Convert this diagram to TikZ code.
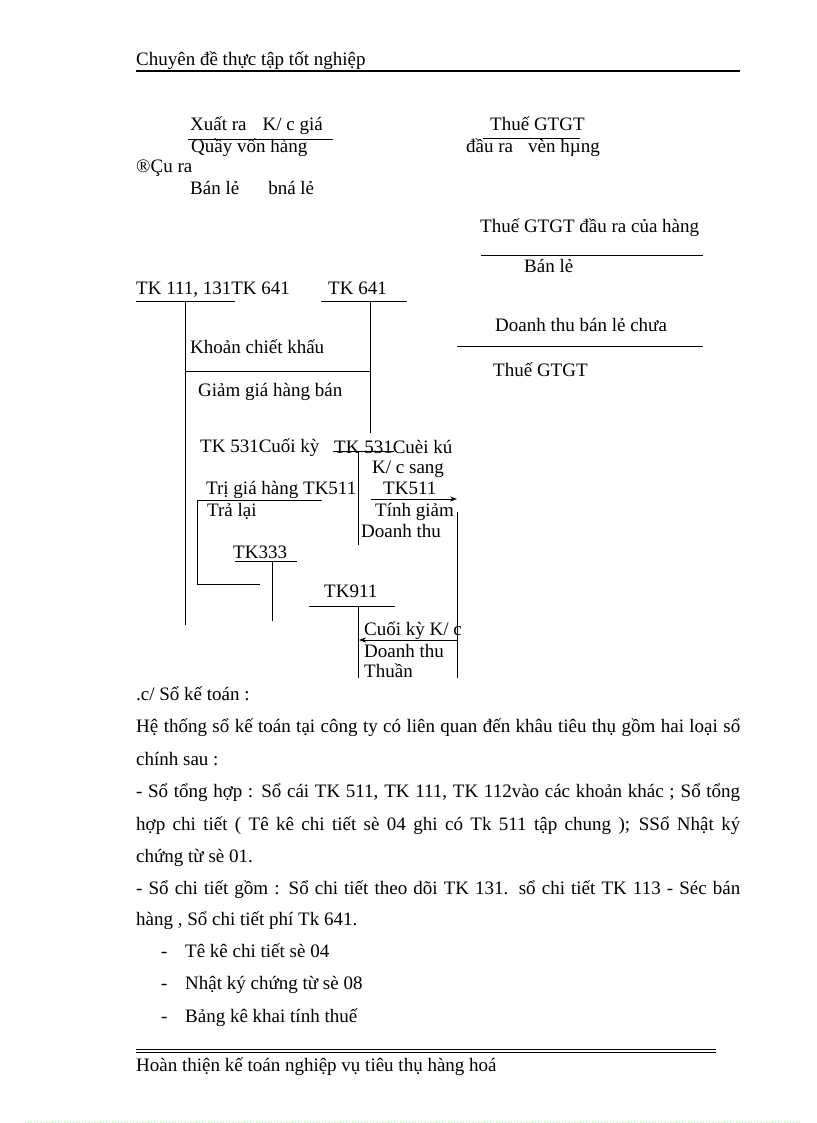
\documentclass[tikz,border=0pt]{standalone}
\usepackage{fontspec}
\setmainfont{Liberation Serif}
\usetikzlibrary{arrows.meta}

\begin{document}
\begin{tikzpicture}[x=1pt, y=-1pt,
                every node/.style={font=\fontsize{19}{23}\selectfont, inner sep=0pt, anchor=base west},
                rule/.style={line width=0.8pt},
                flow/.style={line width=0.8pt, -{Stealth[length=7pt, width=5pt]}}]
                \useasboundingbox[fill=white] (0,0) rectangle (816,1123);

                % Header
                \node (hdr) at (136,66) {Chuyên đề thực tập tốt nghiệp};
                \draw[line width=2pt] (136,71.5) -- (740,71.5);

                % Top notes
                \node (xuat) at (190,131) {Xuất ra\hspace{16pt}K/ c giá};
                \node (quay) at (191,153) {Quầy vốn hàng};
                \node (cura) at (136,173) {®Çu ra};
                \node (banle) at (190,195) {Bán lẻ\hspace{29pt}bná lẻ};
                \draw[rule] (188,139) -- (333,139);
                \node (thue1) at (490,131) {Thuế GTGT};
                \node (daura) at (466,153) {đầu ra\hspace{15pt}vèn hµng};
                \draw[rule] (483,138.5) -- (580,138.5);

                % Right notes
                \node (thue2) at (480,233) {Thuế GTGT đầu ra của hàng};
                \draw[rule] (481,255) -- (703,255);
                \node (banle2) at (524,272) {Bán lẻ};
                \node (dtbl) at (495,331) {Doanh thu bán lẻ chưa};
                \draw[rule] (457,346) -- (703,346);
                \node (thue3) at (493,376) {Thuế GTGT};

                % Accounts TK 111, TK 641
                \node (tk111) at (136,294) {TK 111, 131TK 641};
                \node (tk641) at (328,294) {TK 641};
                \draw[rule] (136,301) -- (235,301);
                \draw[rule] (321,301) -- (407,301);
                \draw[rule] (185,301) -- (185,625);
                \draw[rule] (370,301) -- (370,433);
                \node (khoan) at (190,353) {Khoản chiết khấu};
                \draw[rule] (185,371) -- (370,371);
                \node (giam) at (198,396) {Giảm giá hàng bán};

                % Accounts TK 531
                \node (tk531a) at (200,452) {TK 531Cuối kỳ};
                \node (tk531b) at (334,453) {TK 531Cuèi kú};
                \draw[rule] (333,451) -- (394,451);
                \draw[rule] (358,451) -- (358,545);
                \node (kcsang) at (372,473) {K/ c sang};
                \node (trigia) at (206,494) {Trị giá hàng TK511};
                \draw[rule] (197,500) -- (322,500);
                \draw[rule] (197,500) -- (197,584) -- (260,584);
                \node (tralai) at (207,516) {Trả lại};
                \node (tk511) at (383,494) {TK511};
                \coordinate (k1s) at (371,499);
                \coordinate (k1e) at (457,499);
                \draw[flow] (k1s) -- (k1e);
                \node (tinh) at (375,516) {Tính giảm};
                \node (dthu) at (361,537) {Doanh thu};
                \draw[rule] (457,512) -- (457,678);

                % Accounts TK333, TK911
                \node (tk333) at (233,558) {TK333};
                \draw[rule] (235,561) -- (297,561);
                \draw[rule] (272,561) -- (272,621);
                \node (tk911) at (324,597) {TK911};
                \draw[rule] (309,606) -- (395,606);
                \draw[rule] (358,606) -- (358,678);
                \coordinate (k2s) at (457,640);
                \coordinate (k2e) at (359,640);
                \draw[flow] (k2s) -- (k2e);
                \node (cuoiky) at (364,635) {Cuối kỳ K/ c};
                \node (dthu2) at (364,657) {Doanh thu};
                \node (thuan) at (364,677) {Thuần};

                % Body text
                \node (sokt) at (136,700) {.c/ Sổ kế toán :};
                \node (p1) at (136,732.5) {\makebox[604pt][s]{Hệ thống sổ kế toán tại  công ty có liên  quan đến khâu tiêu thụ gồm hai loại sổ}};
                \node (p2) at (136,765) {chính sau :};
                \node (p3) at (136,797.5) {\makebox[604pt][s]{- Sổ tổng hợp : Sổ cái TK 511, TK 111, TK 112vào  các khoản khác ; Sổ tổng}};
                \node (p4) at (136,830) {\makebox[604pt][s]{hợp chi tiết ( Tê kê chi tiết sè 04 ghi có Tk 511 tập chung ); SSổ Nhật ký}};
                \node (p5) at (136,862.5) {chứng từ sè 01.};
                \node (p6) at (136,894) {\makebox[604pt][s]{- Sổ chi tiết gồm : Sổ chi tiết theo dõi TK 131. sổ chi tiết TK 113 - Séc bán}};
                \node (p7) at (136,925.5) {hàng , Sổ chi tiết phí Tk 641.};
                \foreach \t [count=\i from 0] in {Tê kê chi tiết sè 04, Nhật ký chứng từ sè 08, Bảng kê khai tính thuế} {
                    \node (d\i) at (161,957.5+32.3*\i) {-};
                    \node (b\i) at (185,957.5+32.3*\i) {\t};
                }

                % Footer
                \draw[rule] (136,1049) -- (716,1049);
                \draw[rule] (136,1052.5) -- (716,1052.5);
                \node (ftr) at (136,1071) {Hoàn thiện kế toán nghiệp vụ tiêu thụ hàng hoá};
                \draw[green!30, dotted, line width=1pt] (25,1122) -- (800,1122);
            \end{tikzpicture}
\end{document}
